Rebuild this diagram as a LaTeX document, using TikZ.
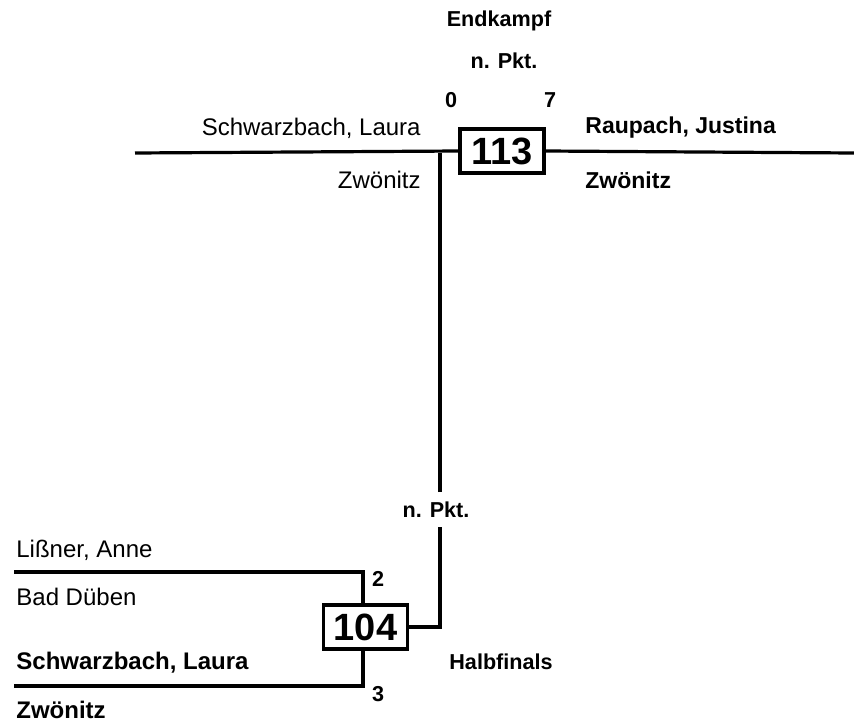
\documentclass[tikz,border=0pt]{standalone}
\usepackage{fontspec}
\setmainfont{Liberation Sans}
\begin{document}
\begin{tikzpicture}[x=0.5pt,y=-0.5pt,
  pname/.style={inner sep=0pt,font=\fontsize{12pt}{14pt}\selectfont},
  bpname/.style={inner sep=0pt,font=\fontsize{11.5pt}{14pt}\selectfont\bfseries},
  lab/.style={inner sep=0pt,font=\fontsize{10.8pt}{12pt}\selectfont\bfseries},
  matchbox/.style={draw,line width=1.6pt,minimum width=42pt,minimum height=22pt,inner sep=0pt,font=\fontsize{19pt}{21pt}\selectfont\bfseries},
  wire/.style={line width=1.6pt}]
\useasboundingbox (0,0) rectangle (854,722);
% final
\node[lab] (endk) at (499,21) {Endkampf};
\node[lab] (npkt1) at (504,61) {n. Pkt.};
\node[lab] (s0) at (451,100) {0};
\node[lab] (s7) at (550,100) {7};
\node[pname,anchor=east] (p1) at (421,128) {Schwarzbach, Laura};
\node[pname,anchor=east] (c1) at (421,180) {Zwönitz};
\node[bpname,anchor=west] (p2) at (585,128) {Raupach, Justina};
\node[bpname,anchor=west] (c2) at (585,180) {Zwönitz};
\coordinate (ls) at (135,153);
\coordinate (le) at (854,153);
\coordinate (j) at (440,153);
\node[matchbox,fill=white] (b113) at (502,151) {113};
\draw[wire] (ls) -- (b113.west);
\draw[wire] (b113.east) -- (le);
% semifinal
\node[matchbox] (b104) at (365.5,627) {104};
\node[lab] (npkt2) at (436,510) {n. Pkt.};
\coordinate (vb) at (440,527);
\coordinate (vt) at (440,492);
\draw[wire] (b104.east) -- (b104.east -| j) -- (vb);
\draw[wire] (vt) -- (j);
\coordinate (a1) at (14,572);
\coordinate (a2) at (363,572);
\coordinate (d1) at (14,686);
\coordinate (d2) at (363,686);
\draw[wire] (a1) -- (a2) -- (a2 |- b104.north);
\draw[wire] (d1) -- (d2) -- (d2 |- b104.south);
\node[pname,anchor=west] (p3) at (16,550) {Lißner, Anne};
\node[pname,anchor=west] (c3) at (16,597) {Bad Düben};
\node[bpname,anchor=west,font=\fontsize{12pt}{14pt}\selectfont\bfseries] (p4) at (16,663) {Schwarzbach, Laura};
\node[bpname,anchor=west,font=\fontsize{12pt}{14pt}\selectfont\bfseries] (c4) at (16,710) {Zwönitz};
\node[lab] (s2) at (378,579) {2};
\node[lab] (s3) at (378,694) {3};
\node[lab] (hf) at (501,662) {Halbfinals};
\end{tikzpicture}
\end{document}
